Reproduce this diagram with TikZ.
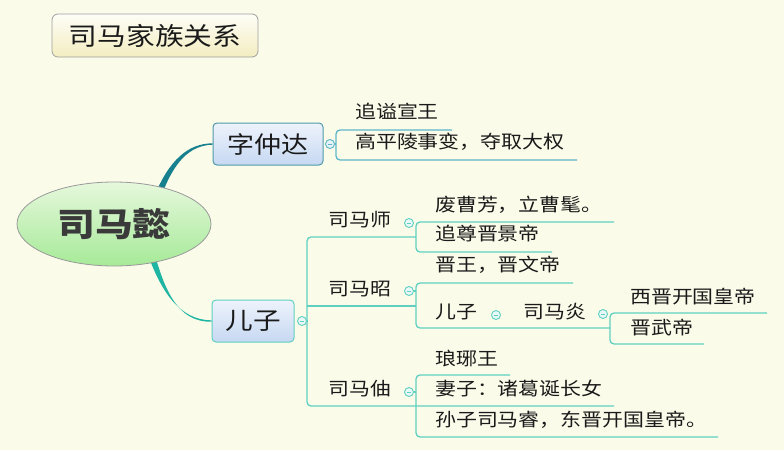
\documentclass[tikz,border=0pt]{standalone}
\usepackage{fontspec}
\setmainfont{Noto Sans CJK SC}[FakeStretch=1.15]
\usetikzlibrary{shapes.geometric}
\definecolor{bg}{HTML}{FBFBEA}
\definecolor{txt}{HTML}{1A1A1A}
\definecolor{lineA}{HTML}{5DB5C8}
\definecolor{lineB}{HTML}{5FD0C0}
\definecolor{curveA}{HTML}{17808F}
\definecolor{curveB}{HTML}{1FB5A3}
\definecolor{boxTop}{HTML}{EEF3FC}
\definecolor{boxBot}{HTML}{C6D8F2}
\begin{document}
\begin{tikzpicture}[x=1pt,y=-1pt,
  leaf/.style={anchor=west, inner sep=0pt, text=txt, text height=0.83em, text depth=0.07em,
    font=\fontsize{18.2}{20}\selectfont},
  topicbox/.style={rounded corners=4pt, top color=boxTop, bottom color=boxBot, text=txt,
    minimum height=42pt, inner sep=0pt, line width=1pt},
  tlA/.style={draw=lineA, line width=1.3pt, rounded corners=4pt},
  tlB/.style={draw=lineB, line width=1.3pt, rounded corners=4pt},
  colbtn/.style={circle, draw=#1, fill=white!85!#1, line width=0.9pt, minimum size=9pt, inner sep=0pt,
    path picture={\draw[#1, line width=0.8pt] ([xshift=-2.3pt]path picture bounding box.center) -- ([xshift=2.3pt]path picture bounding box.center);}}
]
\fill[bg] (0,0) rectangle (784,450);
\useasboundingbox (0,0) rectangle (784,450);

% title
\node[rounded corners=6pt, draw=gray!75, line width=0.8pt, top color=white!60!bg, bottom color={rgb,255:red,243;green,237;blue,192},
  minimum width=206pt, minimum height=43pt, inner sep=0pt, text=txt, font=\fontsize{25}{28}\selectfont]
  (title) at (155,35.5) {司马家族关系};

% main topics
\node[topicbox, draw=lineA!85!black, minimum width=110pt, font=\fontsize{23.5}{26}\selectfont] (zzd) at (268,144) {字仲达};
\node[topicbox, draw=lineB, minimum width=82pt, font=\fontsize{24}{27}\selectfont] (ez) at (253,321) {儿子};

% curves from root
\fill[curveA] (154,197) .. controls (169,160) and (188,143.5) .. ([yshift=0.7pt]zzd.west)
  -- ([yshift=-0.7pt]zzd.west) .. controls (190,145.4) and (174,161) .. (161,197) -- cycle;
\fill[curveB] (147,252) .. controls (161,292) and (180,320.3) .. ([yshift=0.7pt]ez.west)
  -- ([yshift=-0.7pt]ez.west) .. controls (178,322.3) and (165,291) .. (154,252) -- cycle;

% root
\node[ellipse, draw=gray!80, line width=0.8pt, top color={rgb,255:red,230;green,248;blue,220}, bottom color={rgb,255:red,166;green,234;blue,152},
  minimum width=194pt, minimum height=84pt, inner sep=0pt, text={rgb,255:red,58;green,58;blue,58},
  font=\fontsize{32.8}{36}\selectfont\bfseries] (root) at (114,224) {司马懿};

% ---- 字仲达 branch
\coordinate (bA) at (336,144);
\draw[tlA] (452,130) -- (336,130) -- (336,160) -- (577,160);
\node[colbtn=lineA] (cA) at (330,144) {};
\draw[draw=lineA, line width=1.3pt] (cA) -- (bA);
\node[leaf] (a1) at (355,115) {追谥宣王};
\node[leaf] (a2) at (355,145) {高平陵事变，夺取大权};

% ---- 儿子 branch
\coordinate (bB) at (307,321);
\draw[tlB] (416,237) -- (307,237) -- (307,406) -- (614,406);
\draw[tlB] (307,306) -- (416,306);
\node[colbtn=lineB] (cB) at (302,321) {};
\draw[draw=lineB, line width=1.3pt] (cB) -- (bB);

% 司马师
\node[leaf] (s1) at (328,223) {司马师};
\draw[tlB] (614,222) -- (416,222) -- (416,252) -- (552,252);
\node[colbtn=lineB] (cs1) at (409,223) {};
\node[leaf] (s1a) at (435,208) {废曹芳，立曹髦。};
\node[leaf] (s1b) at (435,237) {追尊晋景帝};

% 司马昭
\node[leaf] (s2) at (328,292) {司马昭};
\draw[tlB] (573,283) -- (416,283) -- (416,328) -- (610,328);
\node[colbtn=lineB] (cs2) at (409,291) {};
\draw[draw=lineB, line width=1.3pt] (cs2) -- (416,291);
\node[leaf] (s2a) at (435,268) {晋王，晋文帝};
\node[leaf] (s2b) at (435,315) {儿子};
\node[colbtn=lineB] (cs2b) at (496,315) {};
\node[leaf] (yan) at (523,315) {司马炎};
\draw[tlB] (767,313) -- (610,313) -- (610,344) -- (704,344);
\node[colbtn=lineB] (cyan) at (603,314) {};
\node[leaf] (yan1) at (630,300) {西晋开国皇帝};
\node[leaf] (yan2) at (630,331) {晋武帝};

% 司马伷
\node[leaf] (s3) at (328,392) {司马伷};
\draw[tlB] (510,375) -- (416,375) -- (416,437) -- (718,437);
\node[colbtn=lineB] (cs3) at (409,392) {};
\draw[draw=lineB, line width=1.3pt] (cs3) -- (416,392);
\node[leaf] (s3a) at (435,362) {琅琊王};
\node[leaf] (s3b) at (435,392) {妻子：诸葛诞长女};
\node[leaf] (s3c) at (435,423) {孙子司马睿，东晋开国皇帝。};
\end{tikzpicture}
\end{document}
